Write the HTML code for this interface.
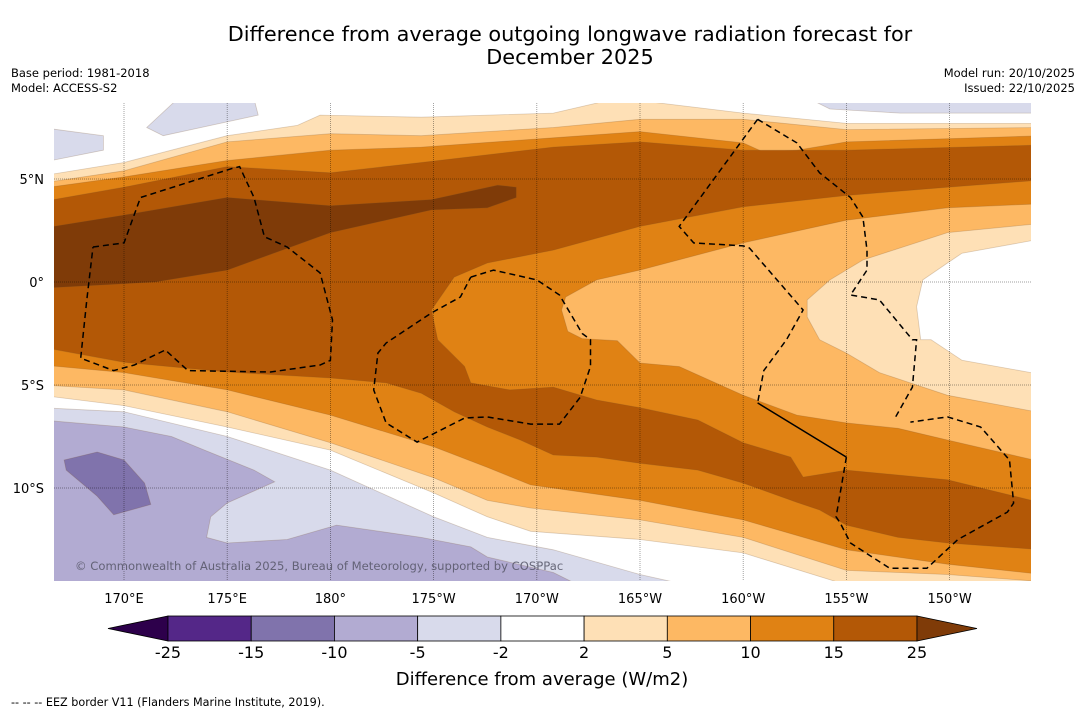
<!DOCTYPE html>
<html><head><meta charset="utf-8">
<style>
html,body{margin:0;padding:0;background:#fff;}
body{width:1085px;height:713px;overflow:hidden;font-family:"Liberation Sans","DejaVu Sans",sans-serif;}
svg text{font-family:"DejaVu Sans","Liberation Sans",sans-serif;}
</style></head>
<body>
<svg id="chart" width="1085" height="713" viewBox="0 0 1085 713" xmlns="http://www.w3.org/2000/svg">
  <text x="570" y="41" font-size="20.8" text-anchor="middle" fill="#000">Difference from average outgoing longwave radiation forecast for</text>
  <text x="570" y="64" font-size="20.8" text-anchor="middle" fill="#000">December 2025</text>
  <text x="11" y="77" font-size="11.5">Base period: 1981-2018</text>
  <text x="11" y="92" font-size="11.5">Model: ACCESS-S2</text>
  <text x="1075" y="77" font-size="11.5" text-anchor="end">Model run: 20/10/2025</text>
  <text x="1075" y="92" font-size="11.5" text-anchor="end">Issued: 22/10/2025</text>
  <defs><clipPath id="mapclip"><rect x="54" y="103" width="977" height="478"/></clipPath></defs>
  <g id="map" clip-path="url(#mapclip)"></g>
  <g id="axes"></g>
  <text x="75" y="570" font-size="11.6" fill="#555566" fill-opacity="0.85">© Commonwealth of Australia 2025, Bureau of Meteorology, supported by COSPPac</text>
  <g id="colorbar"></g>
  <text x="542" y="685" font-size="18" text-anchor="middle">Difference from average (W/m2)</text>
  <text x="11" y="706" font-size="11.2">--  --  -- EEZ border V11 (Flanders Marine Institute, 2019).</text>
</svg>
<script>
// ---- data (lon in degrees east 0-360, lat in degrees) ----
const lonTicks = [170,175,180,185,190,195,200,205,210];
const lonTickLabels = ["170°E","175°E","180°","175°W","170°W","165°W","160°W","155°W","150°W"];
const latTicks = [5,0,-5,-10];
const latTickLabels = ["5°N","0°","5°S","10°S"];
const levels = ["-25","-15","-10","-5","-2","2","5","10","15","25"];
const levelColors = ["#542788","#8073ac","#b2abd2","#d8daeb","#ffffff","#fee0b6","#fdb863","#e08214","#b35806"];
const colorMin = "#2d004b", colorMax = "#7f3b08";

const contourLevel2 = [[166,5.15],[170,5.8],[175,7.1],[178.4,7.6],[179.5,8.1],[184.4,8.0],[190.8,8.2],[193.4,8.8],[195,8.8],[200,8.2],[205,7.7],[214.5,7.7],[214.5,-15],[207.5,-15],[205,-14.7],[200,-13.15],[195,-12.5],[189.7,-12.1],[187.6,-11.4],[185,-10.24],[180,-8.16],[175,-7.04],[170,-6.0],[166,-5.5]];
const contourLevel5 = [[166,4.8],[170,5.4],[175,6.8],[180,7.2],[184.4,7.1],[190.8,7.5],[195,7.9],[200,7.9],[205,7.4],[214.5,7.5],[214.5,-15],[213.9,-14.5],[209.9,-14.2],[205,-14.0],[200,-12.4],[195,-11.55],[189.7,-10.97],[187.6,-10.6],[185,-9.5],[180,-7.8],[175,-6.3],[170,-5.24],[166,-5.0]];
const contourLevel10 = [[166,4.55],[170,5.1],[175,5.9],[180,6.4],[184.4,6.55],[190.8,7.0],[195,7.3],[200,6.75],[201,6.3],[202.6,6.4],[205,6.8],[214.5,7.1],[214.5,-14.2],[209.9,-13.7],[205,-13.0],[200,-11.55],[195,-10.6],[189.7,-9.85],[187.6,-9.0],[185,-8.0],[180,-6.46],[175,-5.24],[170,-4.4],[166,-4.03]];
const contourLevel15 = [[166,3.9],[170,4.6],[175,5.6],[180,5.3],[184.4,5.8],[190.8,6.55],[195,6.8],[200,6.4],[205,6.4],[214.5,6.65],[214.5,-13.0],[209.9,-12.67],[207.5,-12.4],[205,-11.8],[203.7,-11.07],[202.6,-10.7],[200,-9.76],[197.8,-9.13],[195,-8.8],[192.9,-8.5],[190.8,-8.4],[189.2,-7.67],[187.6,-7.04],[186,-6.3],[184.4,-5.4],[182.7,-4.9],[180,-4.66],[175,-4.37],[170,-3.9],[166,-3.16]];
const contourLevel25 = [[166,2.6],[170,3.25],[175,4.1],[180,3.7],[184.9,4.0],[188.1,4.7],[189,4.6],[189,4.1],[187.6,3.6],[184.9,3.5],[180,2.4],[175,0.58],[171.5,0],[166,-0.3]];
const tongueLevel10 = [[214.5,4.95],[209.9,4.6],[205,4.2],[200,3.65],[195,2.7],[190.8,1.55],[187.6,0.92],[186,0.24],[184.9,-1.36],[185.2,-2.8],[186.5,-4.1],[186.8,-4.9],[188.7,-5.24],[190.8,-5.1],[192.9,-5.73],[195,-6.1],[197.8,-6.7],[200,-7.8],[202.3,-8.5],[202.9,-9.47],[205,-9.13],[207.5,-9.37],[209.9,-9.6],[214.5,-10.73]];
const tongueLevel5 = [[214.5,3.8],[209.9,3.6],[205,3.0],[200,1.9],[195,0.58],[192.9,0.1],[191.4,-0.73],[191.2,-1.36],[191.5,-2.4],[192.2,-2.75],[193.9,-2.85],[195,-3.93],[196.9,-4.1],[200,-5.5],[202.6,-6.46],[205,-6.84],[207.5,-7.1],[209.9,-7.67],[214.5,-8.74]];
const tongueLevel2 = [[214.5,2.85],[209.9,2.4],[205.8,1.07],[204.2,0.1],[203.1,-0.87],[203.1,-1.7],[203.7,-2.8],[205,-3.45],[206.6,-4.4],[209.9,-5.5],[214.5,-6.36]];
const tongueNeutral = [[214.5,2.1],[210.6,1.4],[209.9,0.92],[208.7,0.1],[208.4,-1.2],[208.6,-2.8],[209.1,-2.8],[210.6,-3.8],[214.5,-4.5]];
const negLevel2 = [[166,-6.1],[170,-6.3],[175,-7.5],[180,-9.13],[185,-11.4],[187.6,-12.4],[190.8,-13.0],[195,-14.2],[196.8,-14.6],[197,-15.2],[166,-15.2]];
const negLevel5 = [[166,-6.7],[170,-7.04],[172.3,-7.5],[173.9,-8.16],[176.3,-9.13],[177.3,-9.7],[175,-10.73],[174.2,-11.4],[174,-12.4],[175,-12.67],[177.9,-12.5],[180.3,-11.8],[184.4,-12.4],[186.8,-12.86],[187.6,-13.35],[190.8,-14.1],[191.8,-14.6],[191.8,-15.2],[166,-15.2]];
const negLevel10 = [[167.1,-8.64],[168.7,-8.25],[170,-8.64],[171,-9.76],[171.3,-10.8],[169.5,-11.3],[168.7,-10.4],[167.2,-9.13]];
const negPatchNW1 = [[166,7.5],[169,7.1],[169,6.4],[166,5.8]];
const negPatchNW2 = [[171.1,7.5],[172.6,8.9],[176.3,8.9],[176.5,8.1],[171.9,7.1]];
const negPatchNE = [[203.2,8.9],[214.5,8.9],[214.5,8.2],[207.6,8.2],[204.2,8.4]];

const eezTuvalu = [[168.5,1.7],[170,1.9],[170.8,4.1],[175.2,5.5],[175.6,5.6],[176.3,4.1],[176.8,2.2],[177.9,1.7],[179.5,0.44],[180.1,-1.84],[180,-3.8],[179.5,-4.03],[177.1,-4.37],[173.1,-4.3],[172,-3.3],[170.5,-4.03],[169.5,-4.3],[167.9,-3.7],[168.2,-0.87],[168.5,1.7]];
const eezPhoenix = [[186.8,0.24],[187.9,0.58],[190,0.1],[191.1,-0.63],[192.2,-2.5],[192.6,-2.8],[192.6,-4.1],[192.1,-5.6],[191.1,-6.9],[189.7,-6.9],[187.6,-6.55],[186.5,-6.6],[184.2,-7.77],[182.7,-6.84],[182.1,-5.24],[182.3,-3.45],[182.7,-2.96],[184.9,-1.5],[186.3,-0.73],[186.8,0.24]];
const eezLineEast = [[200.7,7.9],[202.6,6.75],[203.7,5.3],[205.2,4.1],[205.8,3.15],[206,1.55],[206,0.58],[205.2,-0.63],[206.6,-0.87],[208.2,-2.8],[208.4,-2.8],[208.2,-5.1],[207.3,-6.7]];
const eezLineWest = [[200.7,7.9],[196.9,2.7],[197.6,1.9],[200,1.75],[200.3,1.65],[202.9,-1.36],[202.1,-2.8],[201,-4.3],[200.7,-5.87]];
const eezSouthLoop = [[205,-8.5],[204.5,-11.4],[204.7,-11.7],[205.2,-12.67],[207.1,-13.9],[208.9,-13.9],[210.4,-12.5],[212.8,-11.17],[213.1,-10.73],[212.9,-8.64],[211.5,-7.04],[209.9,-6.55],[208.1,-6.8]];
const eezSolid = [[200.7,-5.87],[205,-8.5]];

// ---- projection ----
const X0 = 124, LON0 = 170, PXLON = 20.64;
const Y0 = 282, PXLAT = 20.6;
function xScale(lon){ return X0 + (lon - LON0) * PXLON; }
function yScale(lat){ return Y0 - lat * PXLAT; }
const NS = "http://www.w3.org/2000/svg";
function pts(arr){ return arr.map(p => xScale(p[0]).toFixed(1) + "," + yScale(p[1]).toFixed(1)).join(" "); }

const map = document.getElementById("map");
const bg = document.createElementNS(NS, "rect");
bg.setAttribute("x", 54); bg.setAttribute("y", 103); bg.setAttribute("width", 977); bg.setAttribute("height", 478); bg.setAttribute("fill", "#ffffff");


map.appendChild(bg);

function addPoly(arr, color, name){
  const el = document.createElementNS(NS, "polygon");
  el.setAttribute("points", pts(arr));
  el.setAttribute("fill", color);
  el.setAttribute("stroke", "rgba(120,80,40,0.25)");
  el.setAttribute("stroke-width", "0.8");
  
  
  map.appendChild(el);
}
addPoly(negLevel2, "#d8daeb", "contour-neg2");
addPoly(negLevel5, "#b2abd2", "contour-neg5");
addPoly(negLevel10, "#8073ac", "contour-neg10");
addPoly(negPatchNW1, "#d8daeb", "contour-neg2-nw1");
addPoly(negPatchNW2, "#d8daeb", "contour-neg2-nw2");
addPoly(negPatchNE, "#d8daeb", "contour-neg2-ne");
addPoly(contourLevel2, "#fee0b6", "contour-pos2");
addPoly(contourLevel5, "#fdb863", "contour-pos5");
addPoly(contourLevel10, "#e08214", "contour-pos10");
addPoly(contourLevel15, "#b35806", "contour-pos15");
addPoly(contourLevel25, "#7f3b08", "contour-pos25");
addPoly(tongueLevel10, "#e08214", "contour-tongue10");
addPoly(tongueLevel5, "#fdb863", "contour-tongue5");
addPoly(tongueLevel2, "#fee0b6", "contour-tongue2");
addPoly(tongueNeutral, "#ffffff", "contour-tongue-neutral");

// gridlines
lonTicks.forEach((lon, i) => {
  const l = document.createElementNS(NS, "line");
  l.setAttribute("x1", xScale(lon)); l.setAttribute("x2", xScale(lon));
  l.setAttribute("y1", 103); l.setAttribute("y2", 581);
  l.setAttribute("stroke", "rgba(0,0,0,0.45)"); l.setAttribute("stroke-width", "0.8"); l.setAttribute("stroke-dasharray", "1,1");
  
  
  map.appendChild(l);
});
latTicks.forEach((lat, i) => {
  const l = document.createElementNS(NS, "line");
  l.setAttribute("x1", 54); l.setAttribute("x2", 1031);
  l.setAttribute("y1", yScale(lat)); l.setAttribute("y2", yScale(lat));
  l.setAttribute("stroke", "rgba(0,0,0,0.5)"); l.setAttribute("stroke-width", "0.8"); l.setAttribute("stroke-dasharray", "1,1");
  
  
  map.appendChild(l);
});

// EEZ borders
function addLine(arr, dashed, name){
  const el = document.createElementNS(NS, "polyline");
  el.setAttribute("points", pts(arr));
  el.setAttribute("fill", "none");
  el.setAttribute("stroke", "#000");
  el.setAttribute("stroke-width", "1.5");
  if (dashed) el.setAttribute("stroke-dasharray", "6,4");
  
  
  map.appendChild(el);
}
addLine(eezTuvalu, true, "eez-border-tuvalu");
addLine(eezPhoenix, true, "eez-border-phoenix");
addLine(eezLineEast, true, "eez-border-line-east");
addLine(eezLineWest, true, "eez-border-line-west");
addLine(eezSouthLoop, true, "eez-border-south");
addLine(eezSolid, false, "eez-border-solid");

// tick labels
const axes = document.getElementById("axes");
lonTicks.forEach((lon, i) => {
  const t = document.createElementNS(NS, "text");
  t.setAttribute("x", xScale(lon)); t.setAttribute("y", 603);
  t.setAttribute("font-size", "13"); t.setAttribute("text-anchor", "middle");
  t.textContent = lonTickLabels[i];
  
  
  axes.appendChild(t);
});
latTicks.forEach((lat, i) => {
  const t = document.createElementNS(NS, "text");
  t.setAttribute("x", 44); t.setAttribute("y", yScale(lat) + 5);
  t.setAttribute("font-size", "13"); t.setAttribute("text-anchor", "end");
  t.textContent = latTickLabels[i];
  
  
  axes.appendChild(t);
});

// colorbar
const cb = document.getElementById("colorbar");
const CBX0 = 168, CBW = 83.22, CBY = 616, CBH = 25;
const tl = document.createElementNS(NS, "polygon");
tl.setAttribute("points", `108,${CBY+CBH/2} ${CBX0},${CBY} ${CBX0},${CBY+CBH}`);
tl.setAttribute("fill", colorMin); tl.setAttribute("stroke", "#000"); tl.setAttribute("stroke-width", "0.8");


cb.appendChild(tl);
levelColors.forEach((c, i) => {
  const r = document.createElementNS(NS, "rect");
  r.setAttribute("x", CBX0 + i * CBW); r.setAttribute("y", CBY);
  r.setAttribute("width", CBW); r.setAttribute("height", CBH);
  r.setAttribute("fill", c); r.setAttribute("stroke", "#000"); r.setAttribute("stroke-width", "0.8");
  
  
  cb.appendChild(r);
});
const xEnd = CBX0 + levelColors.length * CBW;
const tr = document.createElementNS(NS, "polygon");
tr.setAttribute("points", `${xEnd},${CBY} ${xEnd+60},${CBY+CBH/2} ${xEnd},${CBY+CBH}`);
tr.setAttribute("fill", colorMax); tr.setAttribute("stroke", "#000"); tr.setAttribute("stroke-width", "0.8");


cb.appendChild(tr);
levels.forEach((lv, i) => {
  const t = document.createElementNS(NS, "text");
  t.setAttribute("x", CBX0 + i * CBW); t.setAttribute("y", 658);
  t.setAttribute("font-size", "16"); t.setAttribute("text-anchor", "middle");
  t.textContent = lv;
  
  
  cb.appendChild(t);
});
</script>
</body></html>
